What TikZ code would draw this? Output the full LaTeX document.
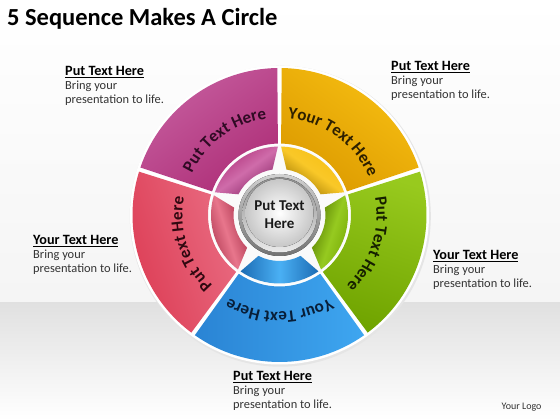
\documentclass[tikz,border=0pt]{standalone}
\usepackage{fontspec}
\setmainfont{Carlito}
\usetikzlibrary{calc,decorations.text}
\definecolor{magL}{HTML}{C65E9F}\definecolor{magR}{HTML}{AE2F78}
\definecolor{magD}{HTML}{8A2868}\definecolor{magM}{HTML}{CF6CAA}\definecolor{magT}{HTML}{300A24}
\definecolor{yelL}{HTML}{F7BF12}\definecolor{yelR}{HTML}{DC9A00}
\definecolor{yelD}{HTML}{9C7400}\definecolor{yelM}{HTML}{F9C828}\definecolor{yelT}{HTML}{2E2000}
\definecolor{grnL}{HTML}{98CA1E}\definecolor{grnR}{HTML}{70A400}
\definecolor{grnD}{HTML}{537800}\definecolor{grnM}{HTML}{96CA20}\definecolor{grnT}{HTML}{162000}
\definecolor{bluL}{HTML}{2A84D4}\definecolor{bluR}{HTML}{3EA6F0}
\definecolor{bluD}{HTML}{1C6CB4}\definecolor{bluM}{HTML}{4AB0F4}\definecolor{bluT}{HTML}{081E38}
\definecolor{redL}{HTML}{DC3A52}\definecolor{redR}{HTML}{E96C82}
\definecolor{redD}{HTML}{A42C46}\definecolor{redM}{HTML}{E8768C}\definecolor{redT}{HTML}{300810}
\newcommand\ringsector[7]{%
  \pgfmathsetmacro\dOut{asin(#6/#4)}%
  \pgfmathsetmacro\dIn{asin(#5/#3)}%
  \path[#7] ($(C)+({#1+\dOut}:#4)$) arc[start angle={#1+\dOut}, end angle={#2-\dOut}, radius=#4]
    -- ($(C)+({#2-\dIn}:#3)$) arc[start angle={#2-\dIn}, end angle={#1+\dIn}, radius=#3] -- cycle;}
\newcommand\segtext[3]{% center angle, text, colour
  \path[decorate, decoration={text along path, text align=center, text color=#3,
     text={|\fontsize{17}{17}\selectfont\bfseries|#2}}]
     ($(C)+({#1+34}:97)$) arc[start angle={#1+34}, end angle={#1-34}, radius=97];}
\tikzset{
  head/.style={anchor=base west, inner sep=0pt, font=\fontsize{14.2}{14}\selectfont\bfseries},
  body/.style={anchor=base west, inner sep=0pt, font=\fontsize{12.4}{14}\selectfont, text=black!80},
}
\begin{document}
\begin{tikzpicture}[x=1pt,y=1pt]
\path[use as bounding box] (0,0) rectangle (560,420);
\shade[top color=white, bottom color=black!4] (0,117) rectangle (560,420);
\shade[top color=black!12, bottom color=white] (0,0) rectangle (560,117);
\coordinate (C) at (279.5,205);
% title
\node[anchor=base west, inner sep=0pt, font=\fontsize{24.5}{26}\selectfont\bfseries] (title) at (7,394) {5 Sequence Makes A Circle};
% base disc
\fill[black!10] ($(C)+(0.8,-1.2)$) circle[radius=150.5];
\fill[white] (C) circle[radius=149.5];
\fill[black!2] (C) circle[radius=70];
% outer parts
\ringsector{18}{90}{71.5}{147}{1.6}{2.2}{left color=yelL, right color=yelR, shading angle=-36}
\ringsector{90}{162}{71.5}{147}{1.6}{2.2}{left color=magL, right color=magR, shading angle=36}
\ringsector{162}{234}{71.5}{147}{1.6}{2.2}{left color=redR, right color=redL, shading angle=-72}
\ringsector{234}{306}{71.5}{147}{1.6}{2.2}{left color=bluL, right color=bluR}
\ringsector{306}{378}{71.5}{147}{1.6}{2.2}{left color=grnL, right color=grnR, shading angle=-18}
% inner parts
\ringsector{18}{90}{46}{68.5}{7}{1.6}{left color=yelD, right color=yelL, middle color=yelM, shading angle=144}
\ringsector{90}{162}{46}{68.5}{7}{1.6}{left color=magD, right color=magR, middle color=magM, shading angle=216}
\ringsector{162}{234}{46}{68.5}{7}{1.6}{left color=redD, right color=redD, middle color=redM, shading angle=288}
\ringsector{234}{306}{46}{68.5}{7}{1.6}{left color=bluD, right color=bluD, middle color=bluM}
\ringsector{306}{378}{46}{68.5}{7}{1.6}{left color=grnD, right color=grnR, middle color=grnM, shading angle=72}
% centre button
\fill[top color=black!18, bottom color=black!55] (C) circle[radius=41];
\fill[top color=black!45, bottom color=black!8] (C) circle[radius=37.5];
\fill[inner color=white, outer color=black!22] ($(C)+(0,2)$) circle[radius=34];
\node[font=\fontsize{15}{18}\selectfont\bfseries, align=center, inner sep=0pt, text=black!90] (centre) at ($(C)+(0,0.5)$) {Put Text\\Here};
% segment texts
\segtext{54}{Your Text Here}{yelT}
\segtext{126}{Put Text Here}{magT}
\segtext{198}{Put Text Here}{redT}
\segtext{270}{Your Text Here}{bluT}
\segtext{342}{Put Text Here}{grnT}
% side labels
\node[head] (h1) at (65,344.5) {\underline{Put Text Here}};
\node[body] (b1a) at (65,330.5) {Bring your};
\node[body] (b1b) at (65,316.5) {presentation to life.};
\node[head] (h2) at (391,349.5) {\underline{Put Text Here}};
\node[body] (b2a) at (391,335.5) {Bring your};
\node[body] (b2b) at (391,321.5) {presentation to life.};
\node[head] (h3) at (33,175.5) {\underline{Your Text Here}};
\node[body] (b3a) at (33,161.5) {Bring your};
\node[body] (b3b) at (33,147.5) {presentation to life.};
\node[head] (h4) at (433,160.5) {\underline{Your Text Here}};
\node[body] (b4a) at (433,146.5) {Bring your};
\node[body] (b4b) at (433,132.5) {presentation to life.};
\node[head] (h5) at (233,39) {\underline{Put Text Here}};
\node[body] (b5a) at (233,25) {Bring your};
\node[body] (b5b) at (233,11) {presentation to life.};
\node[anchor=base west, inner sep=0pt, font=\fontsize{10}{12}\selectfont, text=black!80] (logo) at (501.5,10) {Your Logo};
\end{tikzpicture}
\end{document}
